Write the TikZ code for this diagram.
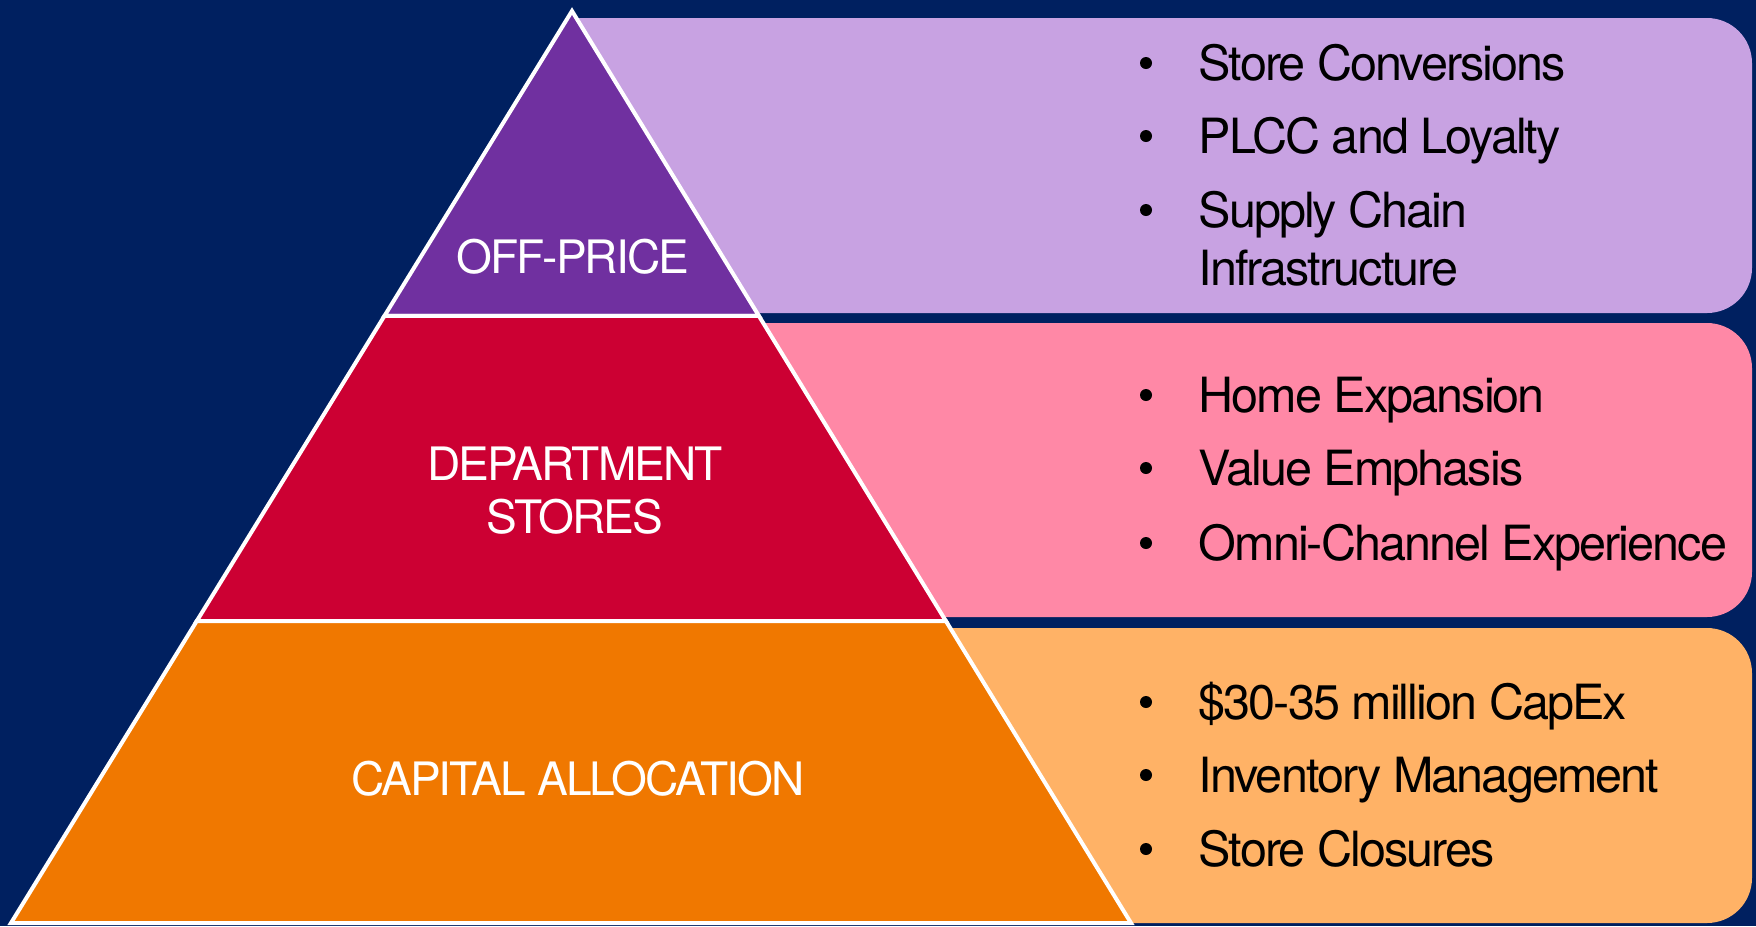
\documentclass[tikz,border=0pt]{standalone}
\usepackage{fontspec}
\setmainfont{TeX Gyre Heros}[LetterSpace=-4]
\usetikzlibrary{calc}

\definecolor{navy}{HTML}{002060}
\definecolor{offprice}{HTML}{7030A0}
\definecolor{offlight}{HTML}{C8A2E2}
\definecolor{dept}{HTML}{CC0033}
\definecolor{deptlight}{HTML}{FF88A6}
\definecolor{capital}{HTML}{F07800}
\definecolor{caplight}{HTML}{FFB266}

\tikzset{
  tier/.style={fill=#1, draw=white, line width=0.04cm},
  tier label/.style={text=white, anchor=base, align=center, inner sep=0pt,
    font=\fontsize{13.1}{14.8}\selectfont},
  panel/.style={fill=#1, rounded corners=0.45cm},
  item/.style={anchor=base west, align=left, inner sep=0pt,
    font=\fontsize{13.8}{16.3}\selectfont},
}

\begin{document}
\begin{tikzpicture}[x=0.01cm, y=-0.01cm]
\fill[navy] (0,0) rectangle (1756,926);
\useasboundingbox (0,0) rectangle (1756,926);

% panels behind the pyramid, square on the left
\foreach \col/\top/\bot in {offlight/18/313, deptlight/323/617, caplight/628/923} {
  \fill[panel=\col] (575,\top) rectangle (1752,\bot);
  \fill[\col] (575,\top) rectangle (900,\bot);
}

\coordinate (apex) at (572,11);
\coordinate (bl) at (11,923);
\coordinate (br) at (1131,923);
\coordinate (l1) at ($(apex)!0.3344!(bl)$);
\coordinate (r1) at ($(apex)!0.3344!(br)$);
\coordinate (l2) at ($(apex)!0.6689!(bl)$);
\coordinate (r2) at ($(apex)!0.6689!(br)$);

\draw[tier=offprice] (apex) -- (r1) -- (l1) -- cycle;
\draw[tier=dept] (l1) -- (r1) -- (r2) -- (l2) -- cycle;
\draw[tier=capital] (l2) -- (r2) -- (br) -- (bl) -- cycle;

% base anchor of a wrapped node sits on its last line
\node[tier label] (offlbl) at (573,273) {OFF-PRICE};
\node[tier label] (deptlbl) at (575,533) {DEPARTMENT\\STORES};
\node[tier label] (caplbl) at (578,795) {CAPITAL ALLOCATION};

\foreach \name/\ypos/\extra/\txt in {
    conv/80/0/Store Conversions, plcc/153/0/PLCC and Loyalty,
    supply/227/58/{Supply Chain\\Infrastructure},
    home/412/0/Home Expansion, value/485/0/Value Emphasis,
    omni/560/0/Omni-Channel Experience,
    capex/719/0/\$30-35 million CapEx, inv/792/0/Inventory Management,
    close/866/0/Store Closures} {
  \node[item] (\name) at (1198,{\ypos+\extra}) {\txt};
  \fill ($(\name.base west)+(-52,{-17-\extra})$) circle[radius=0.06cm];
}
\end{tikzpicture}
\end{document}
